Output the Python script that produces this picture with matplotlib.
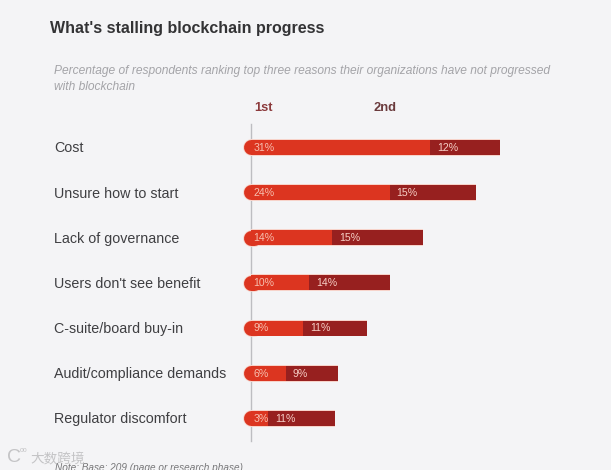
import matplotlib
matplotlib.use("Agg")
import matplotlib.pyplot as plt

plt.rcParams['font.family'] = ['Liberation Sans', 'Noto Sans CJK SC', 'DejaVu Sans']

categories = ["Cost", "Unsure how to start", "Lack of governance", "Users don't see benefit",
              "C-suite/board buy-in", "Audit/compliance demands", "Regulator discomfort"]
first = [31, 24, 14, 10, 9, 6, 3]
# second segment widths as drawn, the printed labels don't always agree with them
second = [12, 15, 15.7, 14, 11, 9, 11.6]
first_labels = ["31%", "24%", "14%", "10%", "9%", "6%", "3%"]
second_labels = ["12%", "15%", "15%", "14%", "11%", "9%", "11%"]

W, H = 611, 470
BG = "#f4f4f6"
RED = "#dc3520"
DARK = "#97201f"
HALO = "#f7d3ca"
PX_PER_PCT = 5.78
ZERO_PX = 251
ROW_PX = 45.2
TOP_PX = 147.2

fig = plt.figure(figsize=(W / 100, H / 100), dpi=100, facecolor=BG)
ax = fig.add_axes([0, 0, 1, 1])
ax.set_xlim(-ZERO_PX / PX_PER_PCT, (W - ZERO_PX) / PX_PER_PCT)
ax.set_ylim((H - TOP_PX) / ROW_PX, -TOP_PX / ROW_PX)
ax.axis("off")

rows = range(len(categories))
bar_h = 15 / ROW_PX

# thin axis line behind the bars
ax.axvline(0, ymin=1 - 441 / H, ymax=1 - 124 / H, color="#bdbdc1", lw=1, zorder=1)

for i in rows:
    total = first[i] + second[i]
    # pale halo from the blurry source
    ax.plot([0, 0.5], [i, i], color=HALO, lw=12, solid_capstyle="round", zorder=1.5)
    ax.barh(i, total, height=bar_h * 1.12, color=HALO, zorder=1.5)
    # rounded left end
    ax.plot([0, 0.5], [i, i], color=RED, lw=10.8, solid_capstyle="round", zorder=2)
    ax.barh(i, first[i], height=bar_h, color=RED, zorder=3)
    ax.barh(i, second[i], left=first[i], height=bar_h, color=DARK, zorder=3)
    ax.text(0.4, i + 0.01, first_labels[i], color="#f6c0b0", fontsize=7.6, va="center", zorder=4)
    ax.text(first[i] + 1.2, i + 0.01, second_labels[i], color="#f6cfc6", fontsize=7.6, va="center", zorder=4)
    fig.text(54.5 / W, 1 - (TOP_PX + 1.2 + (ROW_PX - 0.1) * i) / H, categories[i], color="#3f3f42",
             fontsize=10.3, va="center")

fig.text(50 / W, 1 - 29 / H, "What's stalling blockchain progress", color="#333335",
         fontsize=11.55, fontweight="bold", va="center")
fig.text(54.5 / W, 1 - 71 / H,
         "Percentage of respondents ranking top three reasons their organizations have not progressed",
         color="#a4a4a8", fontsize=8.66, style="italic", va="center")
fig.text(54.5 / W, 1 - 87 / H, "with blockchain", color="#a4a4a8", fontsize=8.66, style="italic", va="center")
fig.text(254 / W, 1 - 108 / H, "1st", color="#8c3a3c", fontsize=9.3, fontweight="bold", va="center")
fig.text(373 / W, 1 - 108 / H, "2nd", color="#6a3a3c", fontsize=9.3, fontweight="bold", va="center")
# the source image crops this line at the bottom edge
fig.text(55 / W, 1 - 468 / H, "Note: Base: 209 (page or research phase)", color="#777779",
         fontsize=7.2, style="italic", va="center")
fig.text(30 / W, 1 - 458 / H, "大数跨境", color="#c4c4c6", fontsize=9.8, va="center")
fig.text(7 / W, 1 - 458 / H, "C", color="#c4c4c6", fontsize=14, va="center")
fig.text(20 / W, 1 - 451 / H, "oo", color="#c4c4c6", fontsize=5, va="center")

fig.savefig("out.png", dpi=100, facecolor=BG)
